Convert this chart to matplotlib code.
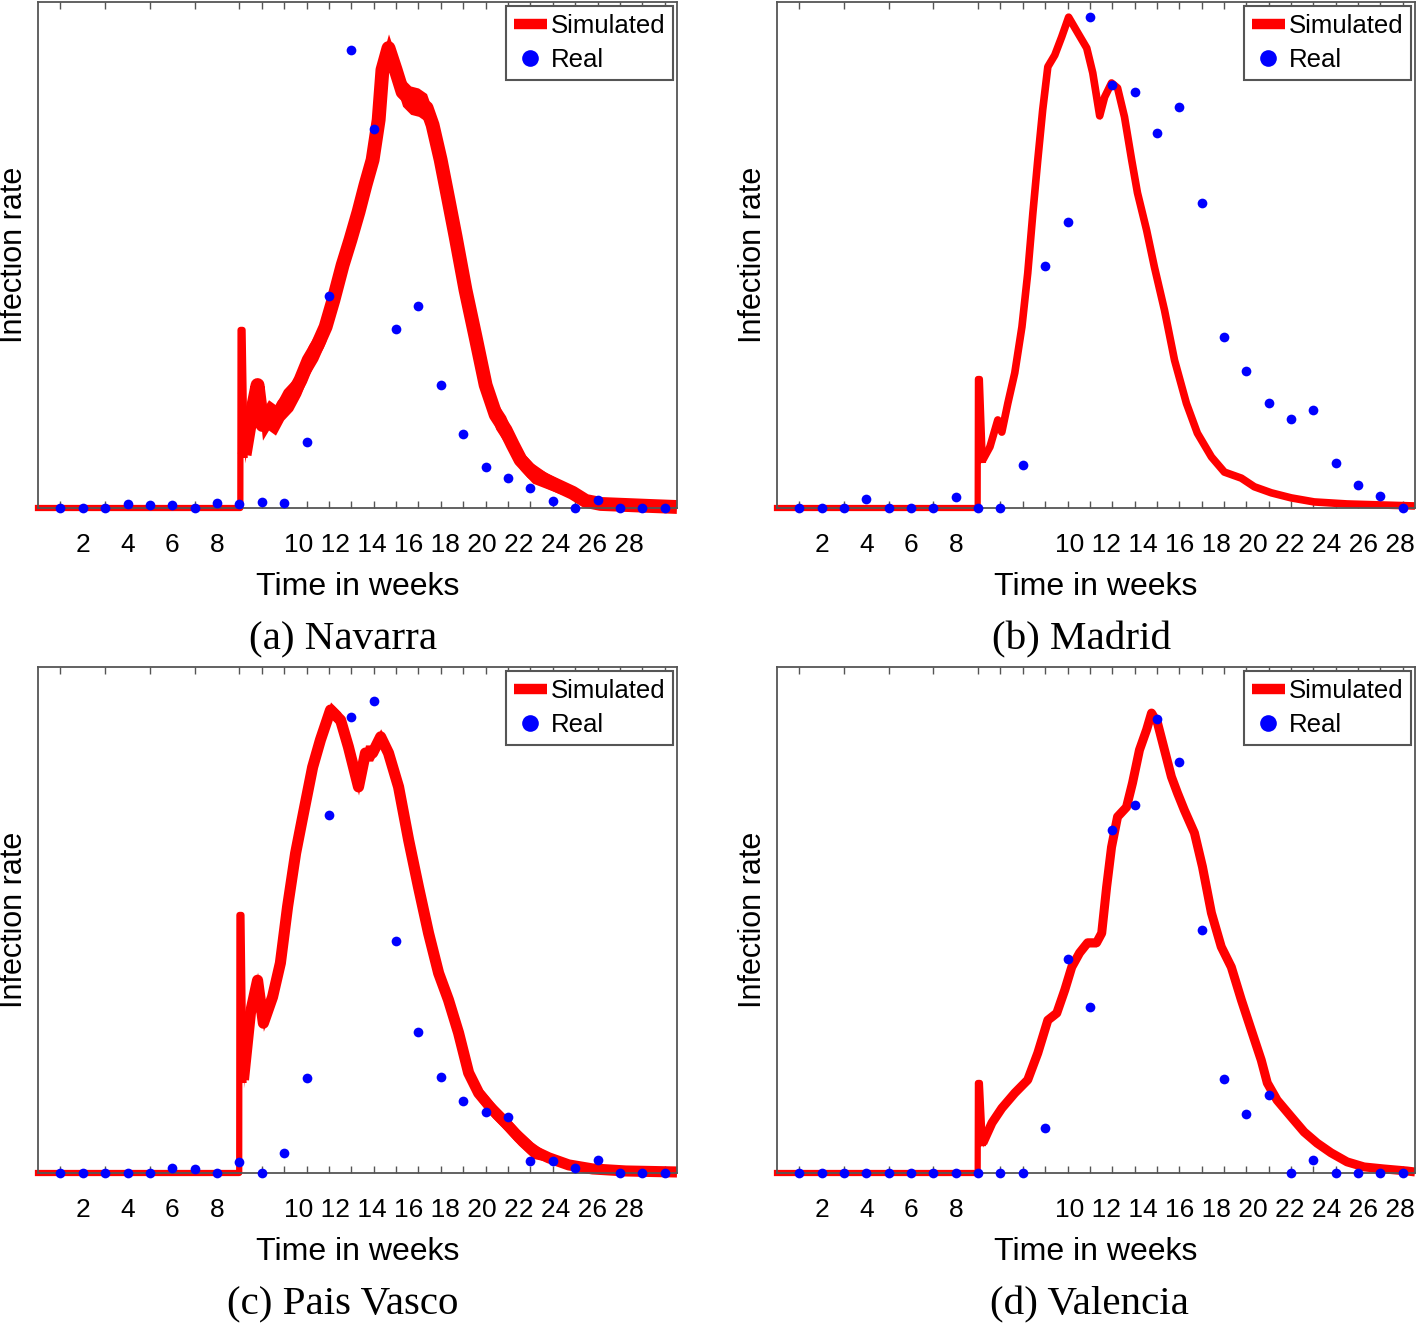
import numpy as np
import matplotlib
matplotlib.use("Agg")
import matplotlib.pyplot as plt
from matplotlib.lines import Line2D

plt.rcParams['font.family'] = ['Liberation Sans', 'DejaVu Sans']

weeks = list(range(1, 29))

# weekly observed rates (normalised to the axis height)
navarra_real = [0, 0, 0, 0.008, 0.006, 0.006, 0, 0.010, 0.008, 0.012, 0.010, 0.130, 0.419, 0.905,
                0.749, 0.354, 0.399, 0.243, 0.146, 0.081, 0.059, 0.040, 0.014, 0, 0.016, 0, 0, 0]
madrid_real = [0, 0, 0, 0.018, 0, 0, 0, 0.022, 0, 0, 0.085, 0.478, 0.565, 0.970,
               0.836, 0.822, 0.741, 0.792, 0.603, 0.338, 0.271, 0.207, 0.176, 0.194, 0.089, 0.045, 0.024, 0]
pais_vasco_real = [0, 0, 0, 0, 0, 0.010, 0.008, 0, 0.022, 0, 0.040, 0.188, 0.708, 0.901,
                   0.933, 0.458, 0.279, 0.190, 0.142, 0.121, 0.111, 0.024, 0.024, 0.010, 0.026, 0, 0, 0]
valencia_real = [0, 0, 0, 0, 0, 0, 0, 0, 0, 0, 0, 0.089, 0.423, 0.328,
                 0.678, 0.727, 0.897, 0.812, 0.480, 0.186, 0.117, 0.154, 0, 0.026, 0, 0, 0, 0]

# simulated curves: time (weeks), centre of the red band, half-width of the noisy band
navarra_t = [0, 9.04, 9.05, 9.14, 9.23, 9.49, 9.81, 10.03, 10.30, 10.61, 10.97, 11.37, 11.73, 12.09, 12.49,
             12.85, 13.20, 13.61, 13.96, 14.32, 14.63, 14.95, 15.22, 15.39, 15.66, 15.98, 16.29, 16.65, 17.00,
             17.36, 17.63, 17.99, 18.34, 18.66, 19.10, 19.55, 20.00, 20.45, 20.89, 21.21, 21.56, 22.10, 22.68,
             23.26, 23.89, 24.47, 25.14, 26.26, 27.37, 28.55]
navarra_sim = [0, 0, 0.352, 0.352, 0.105, 0.174, 0.243, 0.164, 0.184, 0.174, 0.204, 0.223, 0.253, 0.292, 0.322,
               0.358, 0.411, 0.480, 0.530, 0.585, 0.638, 0.688, 0.767, 0.866, 0.909, 0.866, 0.822, 0.806, 0.802,
               0.791, 0.757, 0.688, 0.609, 0.536, 0.431, 0.338, 0.243, 0.184, 0.154, 0.125, 0.095, 0.069, 0.055,
               0.043, 0.030, 0.014, 0.008, 0.006, 0.004, 0.002]
navarra_noise = [0, 0, 0, 0, 0.016, 0.030, 0.014] + [0.030] * 9 + [0.028] * 23 + \
                [0.024, 0.020, 0.020, 0.016, 0.014, 0.010, 0.008, 0.006, 0.004, 0.002, 0]

madrid_t = [0, 8.98, 8.99, 9.08, 9.21, 9.53, 9.88, 10.06, 10.33, 10.64, 10.96, 11.22, 11.45, 11.67, 11.89,
            12.12, 12.43, 12.74, 13.05, 13.46, 13.86, 14.13, 14.44, 14.66, 14.97, 15.24, 15.55, 15.87, 16.13,
            16.54, 16.89, 17.34, 17.79, 18.32, 18.81, 19.44, 20.02, 20.78, 21.36, 22.12, 23.01, 24.04, 25.51,
            27.03, 28.55]
madrid_sim = [0, 0, 0.255, 0.255, 0.095, 0.121, 0.174, 0.150, 0.207, 0.267, 0.358, 0.464, 0.583, 0.688, 0.787,
              0.872, 0.895, 0.931, 0.970, 0.939, 0.909, 0.860, 0.775, 0.812, 0.840, 0.830, 0.773, 0.688, 0.623,
              0.549, 0.476, 0.391, 0.292, 0.207, 0.148, 0.101, 0.071, 0.059, 0.042, 0.030, 0.020, 0.012, 0.008,
              0.006, 0.004]
madrid_noise = [0] * 4 + [0.005] * 12 + [0.008] * 7 + [0.005] * 11 + [0.003] * 7 + [0] * 4

pais_vasco_t = [0, 8.99, 9.0, 9.09, 9.18, 9.49, 9.81, 10.07, 10.48, 10.83, 11.15, 11.51, 11.86, 12.27, 12.62,
                13.07, 13.52, 13.87, 14.32, 14.63, 14.95, 15.31, 15.66, 16.11, 16.56, 17.00, 17.45, 17.90, 18.34,
                18.79, 19.24, 19.69, 20.31, 20.89, 21.47, 22.10, 22.82, 23.71, 24.78, 26.26, 28.55]
pais_vasco_sim = [0, 0, 0.510, 0.510, 0.184, 0.316, 0.381, 0.296, 0.348, 0.415, 0.526, 0.632, 0.711, 0.802,
                  0.856, 0.915, 0.895, 0.842, 0.763, 0.830, 0.830, 0.862, 0.830, 0.763, 0.658, 0.565, 0.474,
                  0.395, 0.342, 0.277, 0.198, 0.158, 0.125, 0.099, 0.071, 0.045, 0.030, 0.016, 0.008, 0.004, 0.002]
pais_vasco_noise = [0] * 4 + [0.016] * 32 + [0.008, 0.006, 0.004, 0.002, 0]

valencia_t = [0, 8.98, 8.99, 9.08, 9.21, 9.62, 10.06, 10.64, 11.22, 11.67, 12.12, 12.52, 12.88, 13.19, 13.54,
              13.90, 14.30, 14.53, 14.75, 14.97, 15.24, 15.64, 15.91, 16.22, 16.54, 16.76, 17.03, 17.34, 17.65,
              17.92, 18.23, 18.68, 19.04, 19.44, 19.88, 20.33, 20.78, 21.22, 21.67, 21.94, 22.38, 23.01, 23.59,
              24.17, 24.79, 25.51, 26.27, 27.16, 28.19, 28.55]
valencia_sim = [0, 0, 0.178, 0.178, 0.059, 0.099, 0.128, 0.158, 0.184, 0.237, 0.302, 0.316, 0.362, 0.407, 0.435,
                0.455, 0.455, 0.474, 0.565, 0.644, 0.704, 0.723, 0.771, 0.836, 0.876, 0.909, 0.889, 0.836, 0.783,
                0.751, 0.717, 0.672, 0.605, 0.514, 0.447, 0.407, 0.342, 0.283, 0.223, 0.178, 0.144, 0.111, 0.081,
                0.059, 0.040, 0.022, 0.012, 0.008, 0.004, 0.002]
valencia_noise = [0] * 4 + [0.008] * 37 + [0.005, 0.004, 0.003, 0.002, 0.002, 0.001, 0, 0, 0]

captions = ["(a) Navarra", "(b) Madrid", "(c) Pais Vasco", "(d) Valencia"]
tick_labels = ["2", "4", "6", "8", "10 12 14 16 18 20 22 24 26 28"]

panels = [
    (navarra_t, navarra_sim, navarra_noise, navarra_real),
    (madrid_t, madrid_sim, madrid_noise, madrid_real),
    (pais_vasco_t, pais_vasco_sim, pais_vasco_noise, pais_vasco_real),
    (valencia_t, valencia_sim, valencia_noise, valencia_real),
]

W, H = 1418, 1325
fig = plt.figure(figsize=(W / 100, H / 100), dpi=100)

ax_boxes = [(38, 2, 677, 508), (777, 2, 1415, 508), (38, 667, 677, 1173), (777, 667, 1415, 1173)]
long_pos = [19.03, 20.5, 19.03, 20.5]          # where the long tick-label string sits
band_lw = [10, 5.5, 8, 6.5]                    # visual thickness of the noisy run after the jump
cap_xy = [(343, 640), (1082, 640), (343, 1305), (1089, 1305)]
grey = '#555555'

for i, (t, sim, noise, real) in enumerate(panels):
    x0, y0, x1, y1 = ax_boxes[i]
    ax = fig.add_axes([x0 / W, 1 - y1 / H, (x1 - x0) / W, (y1 - y0) / H])
    t = np.array(t)
    sim = np.array(sim)
    noise = np.array(noise)

    # baseline + initial jump drawn thin, the noisy epidemic run drawn thick
    ax.plot(t[:5], sim[:5], color='red', lw=4.5, clip_on=False, zorder=2)
    ax.fill_between(t[4:], (sim - noise)[4:], (sim + noise)[4:], color='red', lw=0,
                    clip_on=False, zorder=2)
    ax.plot(t[4:], sim[4:], color='red', lw=band_lw[i], solid_capstyle='butt',
            clip_on=False, zorder=2)
    ax.plot(weeks, real, 'o', color='blue', ms=7, mec='none', clip_on=False, zorder=3)

    ax.set_xlim(0, 28.55)
    ax.set_ylim(0, 1)
    ax.set_yticks([])
    ax.set_xticks([2, 4, 6, 8, long_pos[i]])
    ax.set_xticklabels(tick_labels, fontsize=19)
    ax.set_xticks(weeks, minor=True)
    ax.tick_params(axis='x', which='major', length=0, pad=18)
    ax.tick_params(axis='x', which='minor', direction='in', top=True, bottom=True,
                   length=5, width=1, color=grey)
    for s in ax.spines.values():
        s.set_color(grey)
        s.set_linewidth(1.3)

    ax.set_xlabel("Time in weeks", fontsize=23, va='center')
    ax.xaxis.set_label_coords(0.5, -0.156)
    ax.set_ylabel("Infection rate", fontsize=22, va='center')
    ax.yaxis.set_label_coords(-0.038, 0.5)

    handles = [Line2D([], [], color='red', lw=7.5, solid_capstyle='butt'),
               Line2D([], [], marker='o', ls='', color='blue', ms=12, mec='none')]
    leg = ax.legend(handles, ["Simulated", "Real"], loc='upper right', fontsize=18.5,
                    fancybox=False, edgecolor=grey, framealpha=1, handlelength=1.3,
                    handletextpad=0.15, borderpad=0.3, labelspacing=0.4, borderaxespad=0.15)
    leg.get_frame().set_linewidth(1.5)

    cx, cy = cap_xy[i]
    fig.text(cx / W, 1 - cy / H, captions[i], ha='center', va='center', fontsize=29.5,
             family=['Liberation Serif', 'DejaVu Serif'])

fig.savefig("out.png", dpi=100)
